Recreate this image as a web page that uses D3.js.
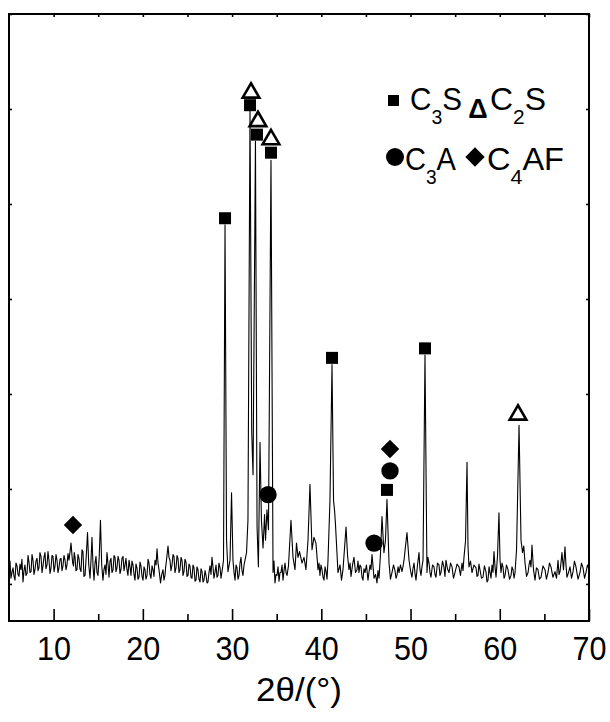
<!DOCTYPE html>
<html>
<head>
<meta charset="utf-8">
<script src="https://cdn.jsdelivr.net/npm/d3@7"></script>
<style>
  body { margin: 0; background: #fff; }
  text { font-family: "Liberation Sans", Arial, sans-serif; fill: #000; }
</style>
</head>
<body>
<script>
// XRD pattern (2θ in degrees, intensity in a.u.)
const twoTheta = [
  5.00, 5.11, 5.22, 5.33, 5.45, 5.56, 5.67, 5.78, 5.90, 6.01,
  6.12, 6.23, 6.34, 6.45, 6.57, 6.68, 6.79, 6.90, 7.02, 7.13,
  7.24, 7.35, 7.47, 7.58, 7.69, 7.80, 7.91, 8.02, 8.14, 8.25,
  8.36, 8.47, 8.59, 8.70, 8.81, 8.92, 9.03, 9.14, 9.26, 9.37,
  9.48, 9.60, 9.71, 9.82, 9.93, 10.05, 10.16, 10.27, 10.38, 10.49,
  10.60, 10.72, 10.83, 10.94, 11.05, 11.16, 11.28, 11.39, 11.50, 11.61,
  11.72, 11.84, 11.95, 12.06, 12.14, 12.23, 12.31, 12.40, 12.51, 12.62,
  12.73, 12.84, 12.95, 13.07, 13.18, 13.29, 13.40, 13.52, 13.66, 13.80,
  13.94, 14.08, 14.19, 14.30, 14.42, 14.53, 14.64, 14.75, 14.86, 14.97,
  15.11, 15.25, 15.39, 15.53, 15.64, 15.76, 15.87, 15.98, 16.09, 16.21,
  16.32, 16.43, 16.54, 16.66, 16.77, 16.88, 16.99, 17.10, 17.22, 17.33,
  17.44, 17.55, 17.66, 17.78, 17.89, 18.00, 18.11, 18.22, 18.33, 18.45,
  18.56, 18.67, 18.78, 18.90, 19.01, 19.12, 19.23, 19.34, 19.46, 19.57,
  19.68, 19.79, 19.91, 20.02, 20.13, 20.24, 20.35, 20.47, 20.58, 20.69,
  20.80, 20.91, 21.03, 21.14, 21.25, 21.36, 21.48, 21.59, 21.70, 21.81,
  21.90, 21.98, 22.12, 22.26, 22.37, 22.48, 22.56, 22.65, 22.74, 22.82,
  22.93, 23.04, 23.15, 23.27, 23.38, 23.49, 23.60, 23.72, 23.83, 23.94,
  24.05, 24.16, 24.28, 24.39, 24.50, 24.61, 24.72, 24.84, 24.95, 25.06,
  25.17, 25.28, 25.40, 25.51, 25.62, 25.73, 25.85, 25.96, 26.07, 26.18,
  26.29, 26.41, 26.52, 26.63, 26.74, 26.85, 26.97, 27.08, 27.19, 27.30,
  27.41, 27.53, 27.64, 27.75, 27.86, 27.97, 28.08, 28.20, 28.31, 28.42,
  28.53, 28.65, 28.76, 28.87, 28.96, 29.04, 29.21, 29.38, 29.54, 29.77,
  29.94, 30.10, 30.22, 30.33, 30.44, 30.55, 30.67, 30.78, 30.89, 31.00,
  31.11, 31.22, 31.34, 31.45, 31.62, 31.78, 32.01, 32.20, 32.35, 32.62,
  32.80, 32.95, 33.13, 33.29, 33.47, 33.64, 33.75, 33.91, 34.08, 34.36,
  34.59, 34.70, 34.81, 34.92, 35.03, 35.15, 35.26, 35.37, 35.48, 35.60,
  35.71, 35.82, 35.93, 36.05, 36.16, 36.32, 36.60, 36.83, 37.05, 37.22,
  37.39, 37.56, 37.84, 38.06, 38.28, 38.51, 38.73, 38.96, 39.18, 39.40,
  39.63, 39.74, 39.85, 39.96, 40.08, 40.19, 40.30, 40.42, 40.53, 40.64,
  40.75, 40.97, 41.20, 41.37, 41.48, 41.58, 41.87, 42.10, 42.26, 42.43,
  42.77, 42.94, 43.10, 43.22, 43.33, 43.50, 43.66, 43.83, 44.00, 44.11,
  44.22, 44.33, 44.45, 44.56, 44.67, 44.78, 44.90, 45.06, 45.23, 45.34,
  45.46, 45.57, 45.68, 45.80, 45.91, 46.08, 46.24, 46.35, 46.47, 46.63,
  46.80, 47.02, 47.19, 47.36, 47.59, 47.75, 47.92, 48.09, 48.26, 48.37,
  48.48, 48.60, 48.71, 48.87, 49.04, 49.15, 49.27, 49.60, 49.83, 50.00,
  50.16, 50.27, 50.39, 50.50, 50.61, 50.78, 50.95, 51.06, 51.17, 51.28,
  51.40, 51.62, 51.84, 51.95, 52.07, 52.18, 52.29, 52.46, 52.63, 52.74,
  52.85, 53.02, 53.19, 53.30, 53.41, 53.58, 53.74, 53.86, 53.97, 54.14,
  54.31, 54.48, 54.65, 54.81, 54.98, 55.21, 55.43, 55.60, 55.77, 55.88,
  55.99, 56.16, 56.33, 56.44, 56.55, 56.72, 56.89, 57.11, 57.34, 57.45,
  57.56, 57.67, 57.78, 57.95, 58.12, 58.28, 58.45, 58.57, 58.68, 58.80,
  58.91, 59.02, 59.13, 59.24, 59.35, 59.47, 59.58, 59.75, 59.91, 60.03,
  60.14, 60.25, 60.36, 60.48, 60.59, 60.75, 60.92, 61.09, 61.26, 61.37,
  61.48, 61.60, 61.71, 61.88, 62.16, 62.38, 62.55, 62.69, 62.83, 63.00,
  63.17, 63.28, 63.39, 63.50, 63.61, 63.78, 63.95, 64.11, 64.28, 64.45,
  64.62, 64.84, 65.07, 65.23, 65.40, 65.57, 65.74, 65.96, 66.19, 66.36,
  66.53, 66.64, 66.75, 66.86, 66.97, 67.14, 67.31, 67.42, 67.53, 67.70,
  67.87, 68.04, 68.21, 68.37, 68.54, 68.77, 68.99, 69.16, 69.33, 69.50,
  69.66, 69.83, 70.00
];
const intensity = [
  15, 24, 6, 12, 17, 8, 4, 22, 19, 10,
  8, 21, 15, 26, 2, 14, 20, 9, 11, 30,
  23, 12, 13, 31, 25, 10, 15, 24, 27, 14,
  17, 33, 29, 12, 19, 28, 33, 16, 20, 34,
  25, 11, 17, 30, 29, 13, 19, 31, 25, 12,
  17, 26, 27, 14, 19, 30, 25, 15, 20, 32,
  25, 34, 43, 30, 22, 19, 33, 28, 14, 15,
  31, 27, 16, 13, 36, 34, 8, 9, 30, 54,
  20, 6, 25, 49, 18, 4, 22, 29, 12, 9,
  28, 67, 20, 4, 15, 20, 10, 33, 22, 7,
  24, 27, 12, 15, 30, 28, 13, 17, 29, 25,
  11, 15, 27, 29, 14, 20, 27, 15, 9, 25,
  18, 9, 24, 20, 10, 4, 21, 17, 5, 7,
  23, 19, 8, 4, 18, 15, 5, 9, 26, 22,
  10, 6, 19, 15, 8, 25, 20, 37, 22, 15,
  8, 1, 10, 15, 4, 9, 18, 25, 33, 40,
  28, 25, 14, 20, 31, 29, 12, 17, 30, 27,
  12, 15, 28, 25, 9, 13, 26, 23, 8, 9,
  21, 19, 7, 6, 20, 17, 3, 4, 18, 15,
  5, 2, 16, 13, 2, 4, 14, 9, 1, 2,
  12, 19, 10, 28, 18, 6, 12, 20, 7, 9,
  22, 17, 6, 13, 19, 25, 378, 46, 13, 25,
  96, 25, 12, 4, 20, 17, 5, 9, 22, 28,
  14, 9, 20, 25, 33, 67, 499, 160, 115, 466,
  60, 18, 149, 67, 38, 73, 46, 78, 57, 446,
  12, 24, 1, 10, 9, 18, 3, 12, 12, 20,
  4, 14, 22, 12, 9, 19, 67, 28, 15, 43,
  28, 34, 22, 28, 15, 46, 105, 36, 49, 43,
  15, 22, 9, 20, 15, 7, 4, 18, 13, 5,
  25, 88, 231, 88, 78, 64, 12, 20, 4, 15,
  60, 30, 15, 22, 8, 20, 28, 12, 15, 24,
  12, 20, 18, 7, 4, 16, 12, 20, 4, 12,
  20, 15, 31, 18, 6, 10, 1, 14, 6, 31,
  71, 33, 46, 89, 22, 5, 12, 20, 14, 6,
  9, 18, 12, 20, 13, 18, 25, 54, 25, 14,
  7, 16, 22, 11, 4, 20, 33, 15, 9, 18,
  25, 241, 12, 28, 22, 12, 7, 20, 18, 10,
  7, 22, 20, 9, 12, 24, 18, 8, 25, 16,
  12, 22, 18, 6, 12, 21, 18, 9, 22, 14,
  28, 45, 128, 40, 18, 24, 12, 20, 17, 8,
  9, 21, 15, 6, 7, 19, 13, 2, 4, 18,
  12, 6, 20, 12, 34, 18, 7, 30, 75, 25,
  12, 22, 18, 6, 9, 20, 15, 5, 9, 18,
  15, 6, 12, 36, 167, 46, 33, 40, 22, 8,
  12, 20, 25, 18, 41, 15, 4, 17, 15, 5,
  7, 19, 15, 5, 12, 22, 18, 7, 13, 6,
  25, 10, 13, 22, 33, 15, 39, 20, 7, 12,
  18, 6, 13, 24, 18, 5, 12, 22, 17, 6,
  12, 20, 15
];

// phase markers (2θ, height)
const c3sX = [29.21, 32.01, 32.79, 34.36, 41.20, 47.36, 51.62];
const c3sY = [385, 504, 473, 454, 238, 99, 248];
const c2sX = [32.12, 32.90, 34.36, 62.04];
const c2sY = [517, 487, 468, 178];
const c3aX = [34.03, 45.91, 47.70];
const c3aY = [94, 43, 119];
const c4afX = [12.17, 47.70];
const c4afY = [62, 142];

// axis ticks
const majorTicks = [10, 20, 30, 40, 50, 60, 70];
const minorTicks = [15, 25, 35, 45, 55, 65];
const yTicks = [0, 100, 200, 300, 400, 500, 600];

const W = 610, H = 722;
const margin = { top: 14, right: 21, bottom: 101, left: 9 };
const width = W - margin.left - margin.right;
const height = H - margin.top - margin.bottom;

const svg = d3.select("body").append("svg")
    .attr("width", W)
    .attr("height", H);

const g = svg.append("g")
    .attr("transform", "translate(" + margin.left + "," + margin.top + ")");

const x = d3.scaleLinear().domain([5, 70]).range([0, width]);
const y = d3.scaleLinear().domain([-39, 600]).range([height, 0]);

// trace
const pts = twoTheta.map(function(t, i) { return [t, intensity[i]]; });
const line = d3.line()
    .x(function(d) { return x(d[0]); })
    .y(function(d) { return y(d[1]); });

g.append("path")
    .datum(pts)
    .attr("fill", "none")
    .attr("stroke", "#000")
    .attr("stroke-width", 1.1)
    .attr("stroke-linejoin", "round")
    .attr("d", line);

// axes (ticks point inwards)
const bottomMajor = g.append("g")
    .attr("transform", "translate(0," + height + ")")
    .call(d3.axisBottom(x).tickValues(majorTicks).tickSize(-12).tickPadding(16));
bottomMajor.selectAll("text")
    .attr("font-size", 33)
    .attr("font-family", "Liberation Sans, Arial, sans-serif")
    .attr("textLength", 34)
    .attr("lengthAdjust", "spacingAndGlyphs");

g.append("g")
    .attr("transform", "translate(0," + height + ")")
    .call(d3.axisBottom(x).tickValues(minorTicks).tickSize(-7).tickFormat(""));

g.append("g")
    .call(d3.axisTop(x).tickValues(majorTicks.concat(minorTicks)).tickSize(-3).tickFormat(""));

g.append("g")
    .call(d3.axisLeft(y).tickValues(yTicks).tickSize(-3).tickFormat(""));

g.append("g")
    .attr("transform", "translate(" + width + ",0)")
    .call(d3.axisRight(y).tickValues(yTicks).tickSize(-3).tickFormat(""));

g.selectAll(".domain").remove();
g.selectAll(".tick line").attr("stroke", "#000").attr("stroke-width", 1.6);

// frame
g.append("rect")
    .attr("width", width)
    .attr("height", height)
    .attr("fill", "none")
    .attr("stroke", "#000")
    .attr("stroke-width", 2);

// markers
const sq = 12;
g.selectAll(".c3s")
    .data(c3sX)
    .enter().append("rect")
    .attr("class", "c3s")
    .attr("x", function(d) { return x(d) - sq / 2; })
    .attr("y", function(d, i) { return y(c3sY[i]) - sq / 2; })
    .attr("width", sq)
    .attr("height", sq)
    .attr("fill", "#000");

const tri = d3.symbol().type(d3.symbolTriangle).size(120);
g.selectAll(".c2s")
    .data(c2sX)
    .enter().append("path")
    .attr("class", "c2s")
    .attr("d", tri)
    .attr("transform", function(d, i) { return "translate(" + x(d) + "," + y(c2sY[i]) + ")"; })
    .attr("fill", "#fff")
    .attr("stroke", "#000")
    .attr("stroke-width", 2.6)
    .attr("stroke-linejoin", "miter");

g.selectAll(".c3a")
    .data(c3aX)
    .enter().append("circle")
    .attr("class", "c3a")
    .attr("cx", function(d) { return x(d); })
    .attr("cy", function(d, i) { return y(c3aY[i]); })
    .attr("r", 8.7)
    .attr("fill", "#000");

const dia = d3.symbol().type(d3.symbolSquare).size(170);
g.selectAll(".c4af")
    .data(c4afX)
    .enter().append("path")
    .attr("class", "c4af")
    .attr("d", dia)
    .attr("transform", function(d, i) { return "translate(" + x(d) + "," + y(c4afY[i]) + ") rotate(45)"; })
    .attr("fill", "#000");

// legend
function chem(xPos, yPos, parts, len) {
    const t = svg.append("text")
        .attr("x", xPos)
        .attr("y", yPos)
        .attr("font-size", 32)
        .attr("textLength", len)
        .attr("lengthAdjust", "spacingAndGlyphs");
    parts.forEach(function(p) {
        const s = t.append("tspan").text(p.t);
        if (p.sub) s.attr("font-size", 21).attr("dy", 14);
        else if (p.back) s.attr("dy", -14);
    });
}

svg.append("rect").attr("x", 388).attr("y", 95).attr("width", 11).attr("height", 11).attr("fill", "#000");
chem(410, 110, [{ t: "C" }, { t: "3", sub: true }, { t: "S", back: true }], 52);
svg.append("text").attr("x", 478).attr("y", 118).attr("text-anchor", "middle")
    .attr("font-size", 27).attr("font-weight", "bold").text("Δ");
chem(490, 110, [{ t: "C" }, { t: "2", sub: true }, { t: "S", back: true }], 56);

svg.append("circle").attr("cx", 395).attr("cy", 157).attr("r", 9).attr("fill", "#000");
chem(405, 170, [{ t: "C" }, { t: "3", sub: true }, { t: "A", back: true }], 51);
svg.append("path").attr("d", dia).attr("transform", "translate(475,157) rotate(45) scale(1.05)").attr("fill", "#000");
chem(487, 170, [{ t: "C" }, { t: "4", sub: true }, { t: "A", back: true }, { t: "F" }], 77);

// x title
svg.append("text")
    .attr("x", 299)
    .attr("y", 701)
    .attr("text-anchor", "middle")
    .attr("font-size", 33)
    .attr("textLength", 86)
    .attr("lengthAdjust", "spacingAndGlyphs")
    .text("2θ/(°)");
</script>
</body>
</html>
